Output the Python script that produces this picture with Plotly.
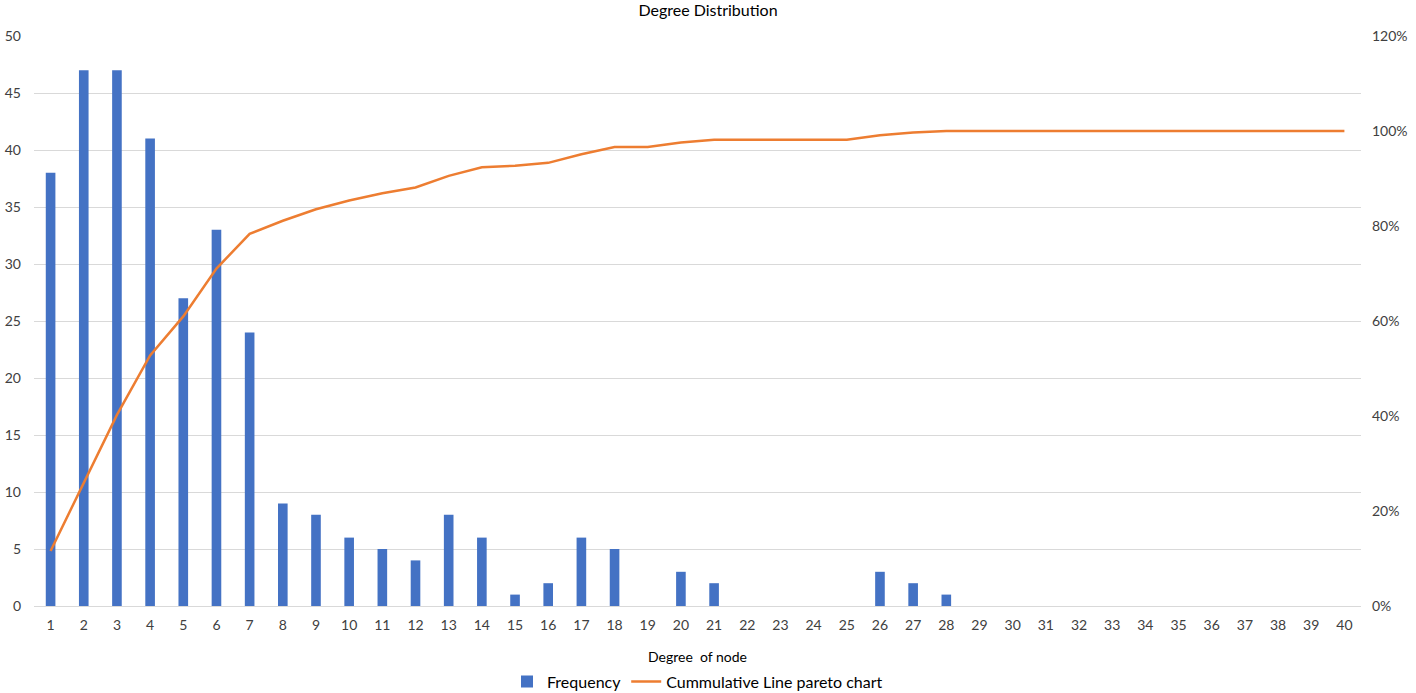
import plotly.graph_objects as go

degrees = list(range(1, 41))
frequency = [38, 47, 47, 41, 27, 33, 24, 9, 8, 6, 5, 4, 8, 6, 1, 2, 6, 5, 0, 3,
             2, 0, 0, 0, 0, 3, 2, 1, 0, 0, 0, 0, 0, 0, 0, 0, 0, 0, 0, 0]

total = sum(frequency)
cumulative = []
running = 0
for f in frequency:
    running += f
    cumulative.append(running / total)

x_labels = [str(d) for d in degrees]

FONT = "Lato, 'Open Sans', sans-serif"
TXT = "#404040"

fig = go.Figure()
fig.add_trace(go.Bar(
    x=x_labels, y=frequency, name="Frequency",
    marker=dict(color="#4472C4", line=dict(width=0)),
    yaxis="y",
))
fig.add_trace(go.Scatter(
    x=x_labels, y=cumulative, name="Cummulative Line pareto chart",
    mode="lines", line=dict(color="#ED7D31", width=2.5),
    yaxis="y2",
))

fig.update_layout(
    width=1416, height=693,
    paper_bgcolor="white", plot_bgcolor="white",
    font=dict(family=FONT, size=14, color=TXT),
    title=dict(text="Degree Distribution", x=0.5, xanchor="center",
               y=1 - 10 / 693, yanchor="middle", font=dict(size=16, color="#000000", family=FONT)),
    margin=dict(l=34, r=55, t=36, b=87, autoexpand=False),
    bargap=0.71,
    xaxis=dict(
        type="category", showgrid=False, showline=True, linecolor="#D9D9D9",
        ticks="", tickfont=dict(size=14, color=TXT), automargin=False,
        ticklabelstandoff=6,
        title=dict(text="Degree  of node", font=dict(size=14, color="#000000"), standoff=20),
    ),
    yaxis=dict(
        range=[0, 50], dtick=5, showgrid=True, gridcolor="#D9D9D9", gridwidth=1,
        zeroline=False, showline=False, ticks="", automargin=False,
        tickfont=dict(size=14, color=TXT), ticklabelstandoff=12,
    ),
    yaxis2=dict(
        range=[0, 1.2], dtick=0.2, tickformat=".0%", overlaying="y", side="right",
        showgrid=False, zeroline=False, showline=False, ticks="", automargin=False,
        tickfont=dict(size=14, color=TXT), ticklabelstandoff=10,
    ),
    legend=dict(orientation="h", x=0.5, xanchor="center", y=-0.103, yanchor="top",
                font=dict(size=16, color="#000000"), itemwidth=30,
                bgcolor="rgba(0,0,0,0)"),
    showlegend=True,
)

fig.write_html(
    "out.html",
    config={"displayModeBar": False},
    post_script="document.body.style.margin='0';document.body.style.overflow='hidden';",
)
